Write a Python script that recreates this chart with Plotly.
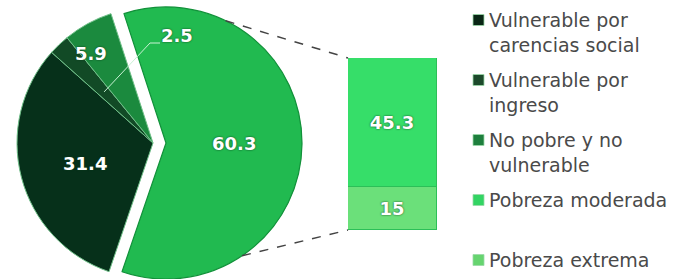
import math
import plotly.graph_objects as go

# ---------------- data ----------------
pie_labels = ["Pobreza", "Vulnerable por carencias social",
              "Vulnerable por ingreso", "No pobre y no vulnerable"]
pie_values = [60.3, 31.4, 2.5, 5.9]

bar_labels = ["Pobreza extrema", "Pobreza moderada"]
bar_values = [15.0, 45.3]

legend_labels = ["Vulnerable por carencias social", "Vulnerable por ingreso",
                 "No pobre y no vulnerable", "Pobreza moderada", "Pobreza extrema"]
legend_lines = [["Vulnerable por", "carencias social"],
                ["Vulnerable por", "ingreso"],
                ["No pobre y no", "vulnerable"],
                ["Pobreza moderada"],
                ["Pobreza extrema"]]

# ---------------- style ----------------
W, H = 682, 279
M_T, M_B = 7, 0
PH = H - M_T - M_B

C_CAR = "#06301a"
C_ING = "#124a26"
C_NOP = "#1b8a3e"
C_POB = "#21ba50"
C_MOD = "#36de69"
C_EXT = "#6be07a"
legend_colors = ["#0a2615", "#1d4a2b", "#1e7f3d", "#33d463", "#66d46f"]
TRANSP = "rgba(0,0,0,0)"

PIE_CX, PIE_CY, PIE_R = 153, M_T + PH / 2, PH / 2
PULL_DX = 13
ROT = -18

BAR_X0, BAR_X1, BAR_Y0, BAR_Y1 = 348, 437, 230, 58

LBL_FONT = dict(family="DejaVu Sans", size=18, color="white",
                weight="bold", shadow="0px 0px 2px #0a3a1a")
LEG_FONT = dict(family="DejaVu Sans", size=19, color="#4a4a4a")


def fmt(v):
    return f"{v:g}"


def to_paper(x, y):
    return x / W, (H - M_B - y) / PH


def polar(cx, cy, r, ang):
    a = math.radians(ang)
    return cx + r * math.sin(a), cy - r * math.cos(a)


total = sum(pie_values)
starts, ends = [], []
acc = ROT
for v in pie_values:
    starts.append(acc)
    acc += v / total * 360
    ends.append(acc)


def dom_x(cx):
    return [(cx - PIE_R) / W, (cx + PIE_R) / W]


fig = go.Figure()

# non-exploded part
fig.add_trace(go.Pie(
    values=pie_values, labels=pie_labels, sort=False, direction="clockwise",
    rotation=ROT,
    marker=dict(colors=[TRANSP, C_CAR, C_ING, C_NOP],
                line=dict(color=[TRANSP, "#6fbf88", "#6fbf88", "#6fbf88"], width=1)),
    textinfo="none", hoverinfo="skip", showlegend=False,
    domain=dict(x=dom_x(PIE_CX), y=[0, 1]),
))
# exploded slice
fig.add_trace(go.Pie(
    values=pie_values, labels=pie_labels, sort=False, direction="clockwise",
    rotation=ROT,
    marker=dict(colors=[C_POB, TRANSP, TRANSP, TRANSP],
                line=dict(color=["#12913a", TRANSP, TRANSP, TRANSP], width=1.2)),
    textinfo="none", hoverinfo="skip", showlegend=False,
    domain=dict(x=dom_x(PIE_CX + PULL_DX), y=[0, 1]),
))

# stacked bar
bar_colors = [C_EXT, C_MOD]
for lab, val, col in zip(bar_labels, bar_values, bar_colors):
    fig.add_trace(go.Bar(
        x=[0], y=[val], name=lab, marker=dict(color=col, line=dict(color="#2cbf58", width=1)),
        text=[fmt(val)], textposition="inside", insidetextanchor="middle",
        textfont=LBL_FONT, showlegend=False, hoverinfo="skip",
    ))

annotations = []
shapes = []

# pie labels: (slice index, fraction within slice, radius fraction, center offset)
label_pos = [(0, 0.5, 0.5, PULL_DX), (1, 0.48, 0.52, 0), (3, 0.2, 0.8, 0)]
for idx, f, rf, off in label_pos:
    ang = starts[idx] + f * (ends[idx] - starts[idx])
    x, y = polar(PIE_CX + off, PIE_CY, PIE_R * rf, ang)
    px, py = to_paper(x, y)
    annotations.append(dict(x=px, y=py, xref="paper", yref="paper", text=fmt(pie_values[idx]),
                            showarrow=False, font=LBL_FONT, xanchor="center", yanchor="middle"))

# 2.5 label with leader line
mid = (starts[2] + ends[2]) / 2
sx, sy = polar(PIE_CX, PIE_CY, PIE_R * 0.52, mid)
p0 = to_paper(sx, sy)
p1 = to_paper(150, 43)
p2 = to_paper(160, 43)
shapes.append(dict(type="path", xref="paper", yref="paper",
                   path=f"M {p0[0]},{p0[1]} L {p1[0]},{p1[1]} L {p2[0]},{p2[1]}",
                   line=dict(color="#c9f2d4", width=1)))
lx, ly = to_paper(177, 36)
annotations.append(dict(x=lx, y=ly, xref="paper", yref="paper", text=fmt(pie_values[2]),
                        showarrow=False, font=LBL_FONT, xanchor="center", yanchor="middle"))

# dashed connectors
for ang, by in [(26, BAR_Y1), (146, BAR_Y0)]:
    x, y = polar(PIE_CX + PULL_DX, PIE_CY, PIE_R, ang)
    a = to_paper(x, y)
    b = to_paper(BAR_X0, by)
    shapes.append(dict(type="line", xref="paper", yref="paper", x0=a[0], y0=a[1], x1=b[0], y1=b[1],
                       line=dict(color="#444444", width=1.5, dash="dash")))

# manual legend
LEG_TX, LEG_SQ0, LEG_SQ1 = 487, 473, 484
for i, (lines, col) in enumerate(zip(legend_lines, legend_colors)):
    y1 = 20 + 60 * i
    for j, t in enumerate(lines):
        x, y = to_paper(LEG_TX, y1 + 25 * j)
        annotations.append(dict(x=x, y=y, xref="paper", yref="paper", text=t, showarrow=False,
                                font=LEG_FONT, xanchor="left", yanchor="middle"))
    a = to_paper(LEG_SQ0, y1 - 5.5)
    b = to_paper(LEG_SQ1, y1 + 5.5)
    shapes.append(dict(type="rect", xref="paper", yref="paper", x0=a[0], y0=b[1], x1=b[0], y1=a[1],
                       fillcolor=col, line=dict(color="#9ad9a8", width=0.8)))

fig.update_layout(
    width=W, height=H, margin=dict(l=0, r=0, t=M_T, b=M_B),
    paper_bgcolor="white", plot_bgcolor="rgba(0,0,0,0)",
    barmode="stack", bargap=0,
    xaxis=dict(domain=[BAR_X0 / W, BAR_X1 / W], range=[-0.5, 0.5], visible=False, fixedrange=True),
    yaxis=dict(domain=[to_paper(0, BAR_Y0)[1], to_paper(0, BAR_Y1)[1]],
               range=[0, sum(bar_values)], visible=False, fixedrange=True),
    annotations=annotations, shapes=shapes, showlegend=False,
)

fig.write_html("out.html", config={"displayModeBar": False},
               post_script="document.body.style.margin='0';document.body.style.overflow='hidden';")
